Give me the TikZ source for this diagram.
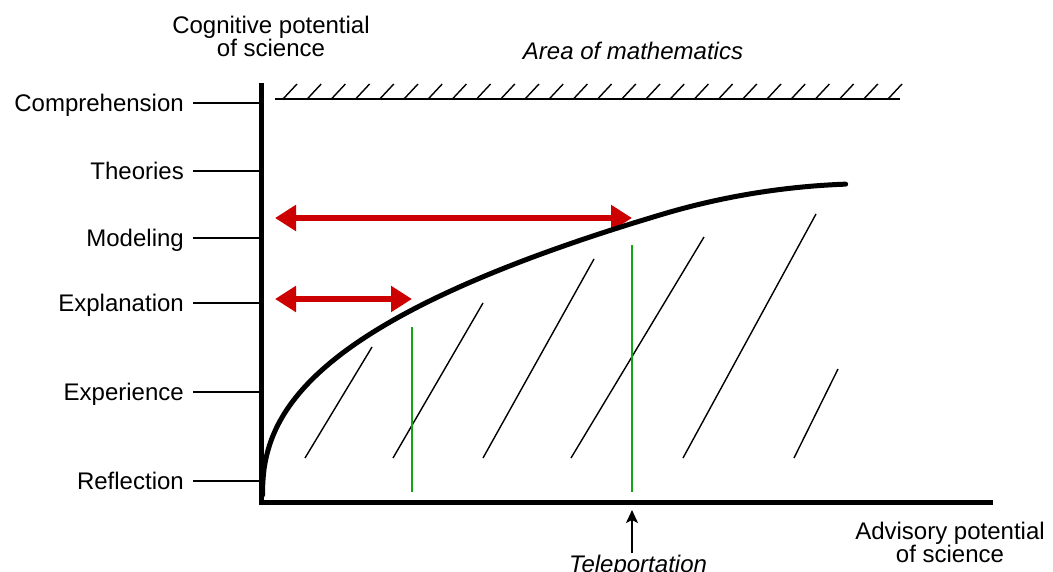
\documentclass[tikz,border=0pt]{standalone}
\usepackage{fontspec}
\setmainfont{Liberation Sans}
\usetikzlibrary{arrows.meta}
\definecolor{ared}{RGB}{204,0,0}
\definecolor{gline}{RGB}{20,165,20}
\begin{document}
\begin{tikzpicture}[x=1pt,y=-1pt,
  lbl/.style={font=\fontsize{24}{23.5}\selectfont, inner sep=0pt},
  ilbl/.style={font=\fontsize{24}{23.5}\selectfont\itshape, inner sep=0pt},
  axisline/.style={line width=5pt, line join=miter},
  tickline/.style={line width=1.6pt},
  hatch/.style={line width=1.4pt},
  greenline/.style={line width=1.8pt, draw=gline},
  redarrow/.style={line width=6.5pt, draw=ared,
    {Triangle[length=21pt,width=25pt]}-{Triangle[length=21pt,width=25pt]}},
]
\useasboundingbox (0,0) rectangle (1053,571);

% axes
\coordinate (O) at (261,502);
\coordinate (Ytop) at (261,83);
\coordinate (Xend) at (993,502);
\draw[axisline] (Ytop) |- (Xend);

% level labels and ticks
\foreach \name/\txt/\yy in {comp/Comprehension/103, theo/Theories/171, mode/Modeling/238,
    expl/Explanation/303, expe/Experience/392, refl/Reflection/481}{
  \node[lbl, anchor=base east] (\name) at (184,\yy+8) {\txt};
  \coordinate (\name t) at (193,\yy);
  \draw[tickline] (\name t) -- (\name t -| O);
}

% axis titles
\node[lbl, anchor=north, align=center] (ytitle) at (271,15.5) {Cognitive potential\\of science};
\node[lbl, anchor=north, align=center] (xtitle) at (950,521.5) {Advisory potential\\of science};
\node[ilbl, anchor=base] (area) at (633,59) {Area of mathematics};

% hatched limit line
\coordinate (H1) at (275,99);
\coordinate (H2) at (900,99);
\draw[line width=2.2pt] (H1) -- (H2);
\foreach \i in {0,...,25}{
  \draw[hatch] ({283+\i*24.2},99) -- ++(14,-15);
}

% hatching under the curve
\foreach \a/\b/\c/\d in {305/458/372/347, 393/458/483/303, 483/458/594/259,
    571/458/704/237, 683/458/816/214, 794/458/838/369}{
  \draw[hatch] (\a,\b) -- (\c,\d);
}

% green lines
\coordinate (g1a) at (412,327); \coordinate (g1b) at (412,492);
\coordinate (g2a) at (632,245); \coordinate (g2b) at (632,492);
\draw[greenline] (g1a) -- (g1b);
\draw[greenline] (g2a) -- (g2b);

% red arrows
\coordinate (r1a) at (275,218); \coordinate (r1b) at (632,218);
\coordinate (r2a) at (275,299); \coordinate (r2b) at (412,299);
\draw[redarrow] (r1a) -- (r1b);
\draw[redarrow] (r2a) -- (r2b);

% curve
\draw[line width=5pt, line cap=round, line join=round]
  plot[domain=0.05:24.15, samples=140, variable=\t]
  ({262.5+\t*\t}, {497 - 158*(\t/10)^0.84 + (0.02345*max(0,\t*\t-400))^2});

% teleportation
\node[ilbl, anchor=base] (tele) at (638,572) {Teleportation};
\coordinate (tpstart) at (632,553);
\coordinate (tpend) at (632,510);
\draw[line width=1.5pt, -{Stealth[length=13pt,width=12pt,inset=3pt]}] (tpstart) -- (tpend);
\end{tikzpicture}
\end{document}
